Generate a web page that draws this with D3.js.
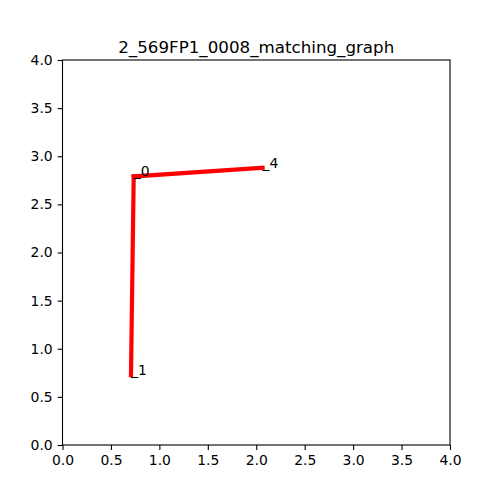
<!DOCTYPE html>
<html><head><meta charset="utf-8">
<script src="https://cdn.jsdelivr.net/npm/d3@7"></script>
<style>body{margin:0;background:#fff}text{font-family:"DejaVu Sans",sans-serif}</style>
</head><body>
<svg id="c" width="500" height="500"></svg>
<script>
const title = "2_569FP1_0008_matching_graph";
const nodeIds = ["0", "1", "4"];
const nodeX = [0.735, 0.707, 2.065];
const nodeY = [2.79, 0.727, 2.88];
const edges = [["0", "1"], ["0", "4"]];
const ticks = [0, 0.5, 1, 1.5, 2, 2.5, 3, 3.5, 4];

const svg = d3.select("#c");
const L = 62.5, R = 450, T = 60, B = 445;
const x = d3.scaleLinear().domain([0, 4]).range([L, R]);
const y = d3.scaleLinear().domain([0, 4]).range([B, T]);
svg.append("rect").attr("width", 500).attr("height", 500).attr("fill", "#fff");

const pos = {};
nodeIds.forEach((id, i) => pos[id] = [nodeX[i], nodeY[i]]);

const g = svg.append("g");
edges.forEach(([a, b]) => {
  g.append("line")
    .attr("x1", x(pos[a][0])).attr("y1", y(pos[a][1]))
    .attr("x2", x(pos[b][0])).attr("y2", y(pos[b][1]))
    .attr("stroke", "#ff0000").attr("stroke-width", 4.2).attr("stroke-linecap", "square");
});
nodeIds.forEach((id, i) => {
  g.append("text").attr("x", x(nodeX[i])).attr("y", y(nodeY[i]))
    .attr("font-size", "13.9px").attr("fill", "#000").text("_" + id);
});

const fmt = d3.format(".1f");
const xa = svg.append("g").attr("transform", `translate(0,${B})`)
  .call(d3.axisBottom(x).tickValues(ticks).tickFormat(fmt).tickSize(4.9).tickPadding(4.9));
const ya = svg.append("g").attr("transform", `translate(${L},0)`)
  .call(d3.axisLeft(y).tickValues(ticks).tickFormat(fmt).tickSize(4.9).tickPadding(4.9));
[xa, ya].forEach(a => {
  a.select(".domain").remove();
  a.selectAll("line").attr("stroke", "#000").attr("stroke-width", 1.1);
  a.selectAll("text").attr("font-size", "13.9px").attr("fill", "#000").attr("font-family", "DejaVu Sans");
});
svg.append("rect").attr("x", L).attr("y", T).attr("width", R - L).attr("height", B - T)
  .attr("fill", "none").attr("stroke", "#000").attr("stroke-width", 1.1);
svg.append("text").attr("x", (L + R) / 2).attr("y", 53).attr("text-anchor", "middle")
  .attr("font-size", "16.7px").attr("fill", "#000").text(title);
</script>
</body></html>
